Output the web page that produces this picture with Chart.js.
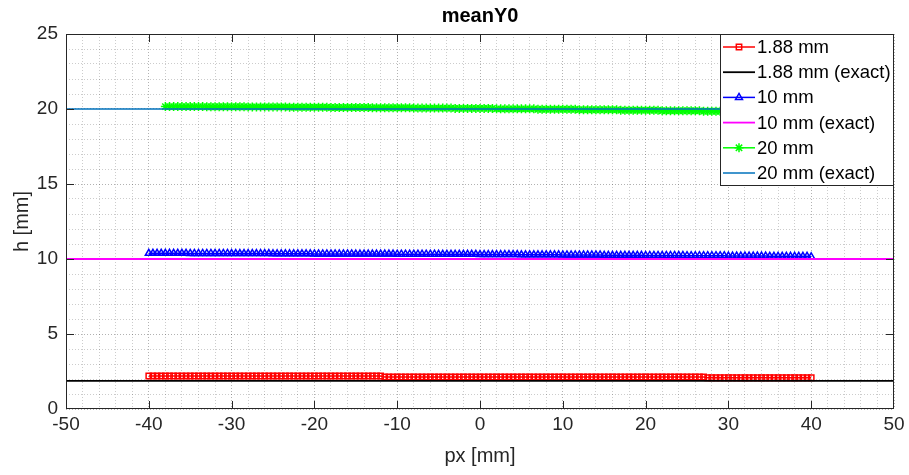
<!DOCTYPE html>
<html>
<head>
<meta charset="utf-8">
<script src="https://cdn.jsdelivr.net/npm/chart.js@4.4.1/dist/chart.umd.min.js"></script>
<style>
  html, body { margin: 0; padding: 0; background: #fff; }
  #wrap { width: 909px; height: 475px; }
</style>
</head>
<body>
<div id="wrap"><canvas id="myChart"></canvas></div>
<script>
// x positions of the samples (0.5 mm spacing)
var xMeas = [];
for (var i = 0; i <= 160; i++) xMeas.push(-40 + i * 0.5);
var xMeas20 = [];
for (var j = 0; j <= 156; j++) xMeas20.push(-38 + j * 0.5);
var xExact = [-50, 50];

// 1.88 mm (x = -40 .. 40)
var h188 = [
  2.2,2.2,2.2,2.2,2.2,2.2,2.2,2.2,2.2,2.2, 2.2,2.2,2.2,2.2,2.2,2.2,2.2,2.2,2.2,2.2,
  2.2,2.2,2.2,2.2,2.2,2.2,2.2,2.2,2.2,2.2, 2.2,2.2,2.2,2.2,2.2,2.2,2.2,2.2,2.2,2.2,
  2.2,2.2,2.2,2.2,2.2,2.2,2.2,2.2,2.2,2.2, 2.2,2.2,2.2,2.2,2.2,2.2,2.2,2.13,2.13,2.13,
  2.13,2.13,2.13,2.13,2.13,2.13,2.13,2.13,2.13,2.13, 2.13,2.13,2.13,2.13,2.13,2.13,2.13,2.13,2.13,2.13,
  2.13,2.13,2.13,2.13,2.13,2.13,2.13,2.13,2.13,2.13, 2.13,2.13,2.13,2.13,2.13,2.13,2.13,2.13,2.13,2.13,
  2.13,2.13,2.13,2.13,2.13,2.13,2.13,2.13,2.13,2.13, 2.13,2.13,2.13,2.13,2.13,2.13,2.13,2.13,2.13,2.13,
  2.13,2.13,2.13,2.13,2.13,2.13,2.13,2.13,2.13,2.13, 2.13,2.13,2.13,2.13,2.13,2.08,2.08,2.08,2.08,2.08,
  2.08,2.08,2.08,2.08,2.08,2.08,2.08,2.08,2.08,2.08, 2.08,2.08,2.08,2.08,2.08,2.08,2.08,2.08,2.08,2.08,2.08
];
// 10 mm (x = -40 .. 40)
var h10 = [
  10.38,10.38,10.38,10.38,10.38,10.38,10.38,10.38,10.38,10.38, 10.37,10.37,10.37,10.37,10.37,10.37,10.37,10.37,10.37,10.37,
  10.36,10.36,10.36,10.36,10.36,10.36,10.36,10.36,10.36,10.36, 10.35,10.35,10.35,10.35,10.35,10.35,10.35,10.35,10.35,10.35,
  10.34,10.34,10.34,10.34,10.34,10.34,10.34,10.34,10.34,10.34, 10.33,10.33,10.33,10.33,10.33,10.33,10.33,10.33,10.33,10.33,
  10.32,10.32,10.32,10.32,10.32,10.32,10.32,10.32,10.32,10.32, 10.31,10.31,10.31,10.31,10.31,10.31,10.31,10.31,10.31,10.31,
  10.30,10.30,10.30,10.30,10.30,10.30,10.30,10.30,10.30,10.30, 10.28,10.28,10.28,10.28,10.28,10.28,10.28,10.28,10.28,10.28,
  10.27,10.27,10.27,10.27,10.27,10.27,10.27,10.27,10.27,10.27, 10.25,10.25,10.25,10.25,10.25,10.25,10.25,10.25,10.25,10.25,
  10.24,10.24,10.24,10.24,10.24,10.24,10.24,10.24,10.24,10.24, 10.22,10.22,10.22,10.22,10.22,10.22,10.22,10.22,10.22,10.22,
  10.20,10.20,10.20,10.20,10.20,10.20,10.20,10.20,10.20,10.20, 10.18,10.18,10.18,10.18,10.18,10.18,10.18,10.18,10.18,10.18,10.15
];
// 20 mm (x = -38 .. 40)
var h20 = [
  20.16,20.16,20.16,20.16,20.16,20.16,20.16,20.16,20.16,20.16, 20.15,20.15,20.15,20.15,20.15,20.15,20.15,20.15,20.15,20.15,
  20.14,20.14,20.14,20.14,20.14,20.14,20.14,20.14,20.14,20.14, 20.12,20.12,20.12,20.12,20.12,20.12,20.12,20.12,20.12,20.12,
  20.10,20.10,20.10,20.10,20.10,20.10,20.10,20.10,20.10,20.10, 20.08,20.08,20.08,20.08,20.08,20.08,20.08,20.08,20.08,20.08,
  20.06,20.06,20.06,20.06,20.06,20.06,20.06,20.06,20.06,20.06, 20.04,20.04,20.04,20.04,20.04,20.04,20.04,20.04,20.04,20.04,
  20.01,20.01,20.01,20.01,20.01,20.01,20.01,20.01,20.01,20.01, 19.98,19.98,19.98,19.98,19.98,19.98,19.98,19.98,19.98,19.98,
  19.95,19.95,19.95,19.95,19.95,19.95,19.95,19.95,19.95,19.95, 19.92,19.92,19.92,19.92,19.92,19.92,19.92,19.92,19.92,19.92,
  19.88,19.88,19.88,19.88,19.88,19.88,19.88,19.88,19.88,19.88, 19.85,19.85,19.85,19.85,19.85,19.85,19.85,19.85,19.85,19.85,
  19.82,19.82,19.82,19.82,19.82,19.82,19.82,19.82,19.82,19.82, 19.79,19.79,19.79,19.79,19.79,19.79,19.79
];
var exact188 = [1.88, 1.88];
var exact10 = [10, 10];
var exact20 = [20, 20];

var labels = ['1.88 mm', '1.88 mm (exact)', '10 mm', '10 mm (exact)', '20 mm', '20 mm (exact)'];

function pts(xs, ys) {
  return xs.map(function(x, k) { return { x: x, y: ys[k] }; });
}

function measSet(label, xs, ys, color, style, r, order) {
  return {
    label: label, data: pts(xs, ys),
    borderColor: color, backgroundColor: 'rgba(0,0,0,0)',
    borderWidth: 1.5, pointStyle: style, pointRadius: r,
    pointBorderColor: color, pointBackgroundColor: 'rgba(0,0,0,0)', pointBorderWidth: 1.5,
    order: order
  };
}
function exactSet(label, ys, color, width, order) {
  return {
    label: label, data: pts(xExact, ys),
    borderColor: color, backgroundColor: color,
    borderWidth: width, pointRadius: 0, order: order
  };
}

var TXT = '#262626';
var FONT = '"Liberation Sans", Arial, Helvetica, sans-serif';

function drawMarker(ctx, style, x, y, r, color) {
  ctx.save();
  ctx.strokeStyle = color;
  ctx.lineWidth = 1.5;
  ctx.beginPath();
  if (style === 'rect') {
    var s = r * Math.SQRT1_2;
    ctx.rect(x - s, y - s, 2 * s, 2 * s);
  } else if (style === 'triangle') {
    ctx.moveTo(x, y - r);
    ctx.lineTo(x + r * 0.866, y + r * 0.5);
    ctx.lineTo(x - r * 0.866, y + r * 0.5);
    ctx.closePath();
  } else if (style === 'star') {
    for (var a = 0; a < 4; a++) {
      var ang = a * Math.PI / 4;
      ctx.moveTo(x - r * Math.sin(ang), y - r * Math.cos(ang));
      ctx.lineTo(x + r * Math.sin(ang), y + r * Math.cos(ang));
    }
  }
  ctx.stroke();
  ctx.restore();
}

var boxPlugin = {
  id: 'matlabBox',
  afterDraw: function(chart) {
    var ctx = chart.ctx, a = chart.chartArea;
    var xs = chart.scales.x, ys = chart.scales.y;
    ctx.save();
    // axes box
    ctx.strokeStyle = TXT;
    ctx.lineWidth = 1;
    ctx.strokeRect(a.left + 0.5, a.top + 0.5, a.right - a.left - 1, a.bottom - a.top - 1);
    // inward major ticks
    ctx.beginPath();
    for (var v = -40; v <= 40; v += 10) {
      var px = Math.round(xs.getPixelForValue(v)) + 0.5;
      ctx.moveTo(px, a.bottom); ctx.lineTo(px, a.bottom - 8);
      ctx.moveTo(px, a.top); ctx.lineTo(px, a.top + 8);
    }
    for (var w = 5; w <= 20; w += 5) {
      var py = Math.round(ys.getPixelForValue(w)) + 0.5;
      ctx.moveTo(a.left, py); ctx.lineTo(a.left + 8, py);
      ctx.moveTo(a.right, py); ctx.lineTo(a.right - 8, py);
    }
    ctx.stroke();

    // title
    ctx.fillStyle = '#000';
    ctx.font = 'bold 20px ' + FONT;
    ctx.textAlign = 'center';
    ctx.textBaseline = 'middle';
    ctx.fillText('meanY0', (a.left + a.right) / 2, 16);

    // legend
    var lx = 720, ly = a.top, lw = a.right - 720, lh = 152;
    ctx.fillStyle = '#fff';
    ctx.fillRect(lx, ly, lw, lh);
    ctx.strokeStyle = TXT;
    ctx.strokeRect(lx + 0.5, ly + 0.5, lw - 1, lh - 1);
    ctx.font = '18.5px ' + FONT;
    ctx.textAlign = 'left';
    ctx.textBaseline = 'middle';
    chart.data.datasets.forEach(function(ds, k) {
      var y = ly + 13 + k * 25.2;
      ctx.strokeStyle = ds.borderColor;
      ctx.lineWidth = ds.borderWidth;
      ctx.beginPath();
      ctx.moveTo(lx + 3, y); ctx.lineTo(lx + 35, y);
      ctx.stroke();
      if (ds.pointRadius > 0) drawMarker(ctx, ds.pointStyle, lx + 19, y, ds.pointRadius, ds.borderColor);
      ctx.fillStyle = '#000';
      ctx.fillText(ds.label, lx + 37, y + 1);
    });
    ctx.restore();
  }
};

function gridColor(c) {
  var v = c.tick ? c.tick.value : 0;
  return c.scale.axis === 'x'
    ? (v % 10 === 0 ? 'rgba(0,0,0,0.3)' : 'rgba(0,0,0,0.2)')
    : (v % 5 === 0 ? 'rgba(0,0,0,0.3)' : 'rgba(0,0,0,0.2)');
}

var ctx1 = document.getElementById('myChart').getContext('2d');
var myChart = new Chart(ctx1, {
  type: 'line',
  data: {
    datasets: [
      measSet(labels[0], xMeas, h188, '#FF0000', 'rect', 3.8, 6),
      exactSet(labels[1], exact188, '#000000', 1.8, 5),
      measSet(labels[2], xMeas, h10, '#0000FF', 'triangle', 4, 4),
      exactSet(labels[3], exact10, '#FF00FF', 1.8, 3),
      measSet(labels[4], xMeas20, h20, '#00FF00', 'star', 4.5, 2),
      exactSet(labels[5], exact20, '#0072BD', 1.5, 1)
    ]
  },
  options: {
    responsive: true,
    maintainAspectRatio: false,
    animation: false,
    layout: { padding: { top: 34, right: 15, left: 0, bottom: 0 } },
    plugins: {
      legend: { display: false },
      tooltip: { enabled: false },
      title: { display: false }
    },
    scales: {
      x: {
        type: 'linear', min: -50, max: 50,
        afterFit: function(s) { s.height = 66; },
        ticks: {
          stepSize: 2, autoSkip: false, maxRotation: 0, padding: 4,
          color: TXT, font: { size: 19, family: FONT },
          callback: function(v) { return v % 10 === 0 ? v : ''; }
        },
        grid: { color: gridColor, drawTicks: false, lineWidth: 1 },
        border: { display: false, dash: [1, 2] },
        title: { display: true, text: 'px [mm]', color: TXT, font: { size: 20, family: FONT }, padding: { top: 0, bottom: 7 } }
      },
      y: {
        min: 0, max: 25,
        afterFit: function(s) { s.width = 66; },
        ticks: {
          stepSize: 1, autoSkip: false, padding: 8,
          color: TXT, font: { size: 19, family: FONT },
          callback: function(v) { return v % 5 === 0 ? v : ''; }
        },
        grid: { color: gridColor, drawTicks: false, lineWidth: 1 },
        border: { display: false, dash: [1, 2] },
        title: { display: true, text: 'h [mm]', color: TXT, font: { size: 20, family: FONT }, padding: { top: 10, bottom: 0 } }
      }
    }
  },
  plugins: [boxPlugin]
});
</script>
</body>
</html>
